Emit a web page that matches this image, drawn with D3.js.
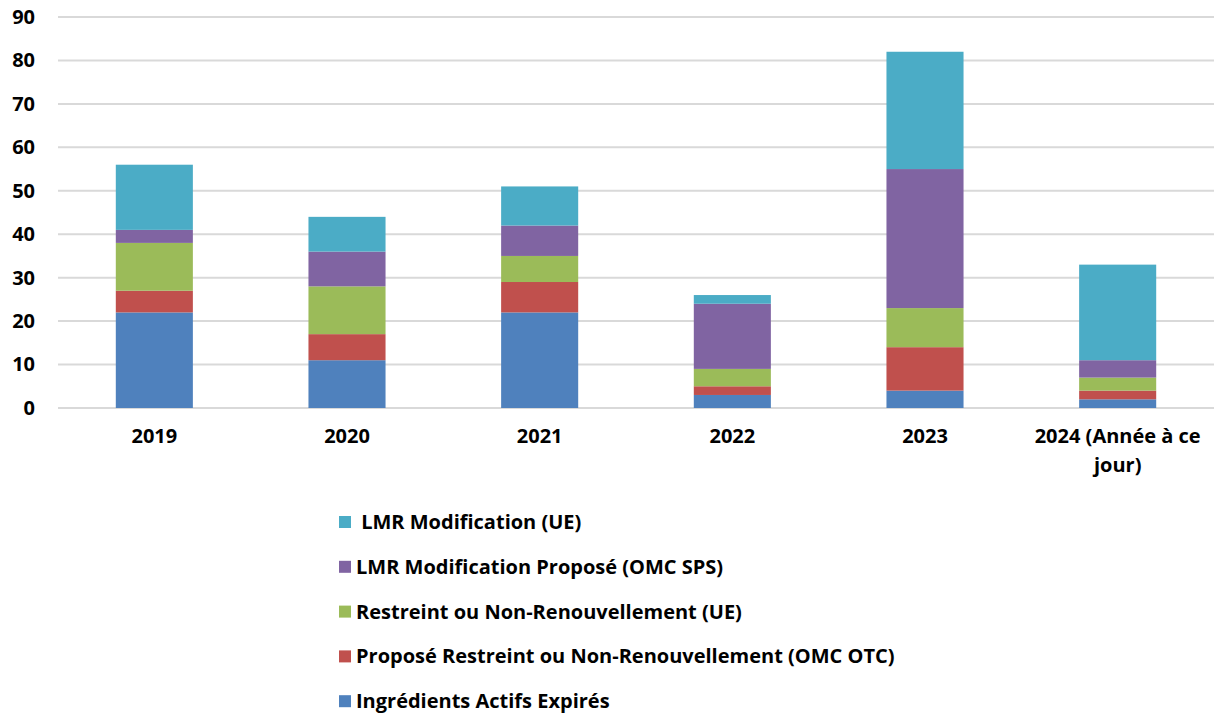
<!DOCTYPE html>
<html>
<head>
<meta charset="utf-8">
<script src="https://cdn.jsdelivr.net/npm/d3@7"></script>
<style>
  body { margin: 0; background: #fff; }
  svg { display: block; font-family: "Open Sans", sans-serif; font-weight: bold; }
</style>
</head>
<body>
<div id="chart"></div>
<script>
// categories and series, bottom of stack first
const years = ["2019", "2020", "2021", "2022", "2023", "2024 (Année à ce jour)"];
const seriesNames = [
  "Ingrédients Actifs Expirés",
  "Proposé Restreint ou Non-Renouvellement (OMC OTC)",
  "Restreint ou Non-Renouvellement (UE)",
  "LMR Modification Proposé (OMC SPS)",
  " LMR Modification (UE)"
];
const expires = [22, 11, 22, 3, 4, 2];
const proposeOtc = [5, 6, 7, 2, 10, 2];
const restreintUe = [11, 11, 6, 4, 9, 3];
const lmrSps = [3, 8, 7, 15, 32, 4];
const lmrUe = [15, 8, 9, 2, 27, 22];
const yTicks = [0, 10, 20, 30, 40, 50, 60, 70, 80, 90];
const colors = ["#4F81BD", "#C0504D", "#9BBB59", "#8064A2", "#4BACC6"];

const WIDTH = 1214;
const HEIGHT = 715;
const MARGINS = {left: 58, right: 0, top: 17, bottom: 307};
const FONT = "\"Open Sans\", sans-serif";

const allSeries = [expires, proposeOtc, restreintUe, lmrSps, lmrUe];
const rows = years.map((y, i) => {
  const row = {year: y};
  seriesNames.forEach((s, j) => { row[s] = allSeries[j][i]; });
  return row;
});

const stacked = d3.stack().keys(seriesNames)(rows);

const svg = d3.select("#chart")
  .append("svg")
    .attr("width", WIDTH)
    .attr("height", HEIGHT);

const X_SCALE = d3.scaleBand()
  .domain(years)
  .range([MARGINS.left, WIDTH - MARGINS.right])
  .paddingInner(0.6)
  .paddingOuter(0.3);

const Y_SCALE = d3.scaleLinear()
  .domain([0, 90])
  .range([HEIGHT - MARGINS.bottom, MARGINS.top]);

// gridlines
svg.append("g")
  .selectAll("line")
  .data(yTicks)
  .enter()
  .append("line")
    .attr("x1", MARGINS.left)
    .attr("x2", WIDTH - MARGINS.right)
    .attr("y1", d => Y_SCALE(d))
    .attr("y2", d => Y_SCALE(d))
    .attr("stroke", "#d9d9d9")
    .attr("stroke-width", 2);

// y axis labels
const yAxis = svg.append("g")
  .attr("transform", "translate(" + MARGINS.left + ",0)")
  .call(d3.axisLeft(Y_SCALE).tickValues(yTicks).tickSize(0).tickPadding(23));
yAxis.select(".domain").remove();
yAxis.selectAll("text")
  .attr("font-family", FONT)
  .attr("font-weight", "bold")
  .attr("font-size", "20px")
  .attr("fill", "#000");

// bars
svg.append("g")
  .selectAll("g")
  .data(stacked)
  .enter()
  .append("g")
    .attr("fill", (d, i) => colors[i])
  .selectAll("rect")
  .data(d => d)
  .enter()
  .append("rect")
    .attr("x", d => X_SCALE(d.data.year))
    .attr("width", X_SCALE.bandwidth())
    .attr("y", d => Y_SCALE(d[1]))
    .attr("height", d => Y_SCALE(d[0]) - Y_SCALE(d[1]));

// x axis labels
const xAxis = svg.append("g")
  .attr("transform", "translate(0," + (HEIGHT - MARGINS.bottom) + ")")
  .call(d3.axisBottom(X_SCALE).tickSize(0).tickPadding(21));
xAxis.select(".domain").remove();
xAxis.selectAll("text")
  .attr("font-family", FONT)
  .attr("font-weight", "bold")
  .attr("font-size", "20px")
  .attr("fill", "#000")
  .each(function(d) {
    if (d.indexOf("(") > 0) {
      const t = d3.select(this);
      t.text(null);
      t.append("tspan").attr("x", 0).attr("dy", "0.71em").text("2024 (Année à ce");
      t.append("tspan").attr("x", 0).attr("dy", "1.45em").text("jour)");
    }
  });

// legend, top to bottom in reverse order
const legendNames = seriesNames.slice().reverse();
const legendColors = colors.slice().reverse();
const legend = svg.append("g")
  .selectAll("g")
  .data(legendNames)
  .enter()
  .append("g")
    .attr("transform", (d, i) => "translate(339," + (522 + i * 44.8) + ")");

legend.append("rect")
  .attr("x", 0)
  .attr("y", -6)
  .attr("width", 12)
  .attr("height", 12)
  .attr("fill", (d, i) => legendColors[i]);

legend.append("text")
  .attr("x", 17)
  .attr("dy", "0.35em")
  .attr("font-family", FONT)
  .attr("font-size", "20px")
  .attr("fill", "#000")
  .attr("xml:space", "preserve")
  .style("white-space", "pre")
  .text(d => d);
</script>
</body>
</html>
